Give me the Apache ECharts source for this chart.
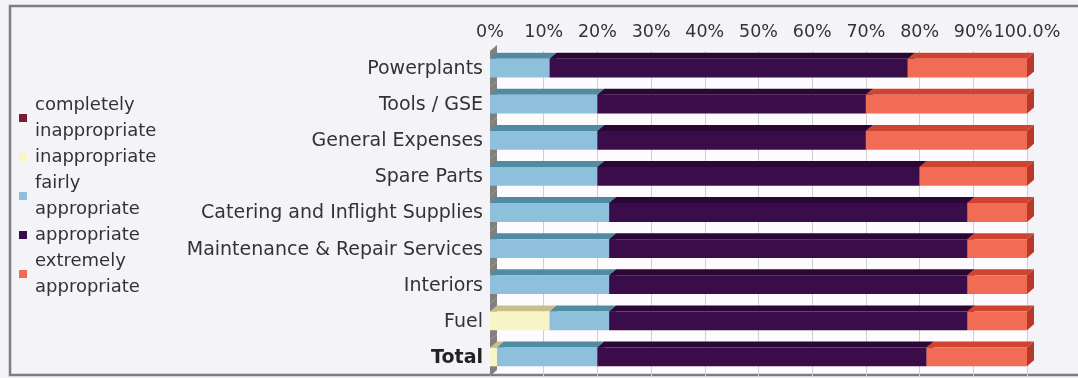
<!DOCTYPE html>
<html>
<head>
<meta charset="utf-8">
<script src="https://cdn.jsdelivr.net/npm/echarts@6/dist/echarts.min.js"></script>
<style>
  html, body { margin: 0; padding: 0; background: #f4f3f7; }
  #chart { width: 1078px; height: 378px; }
</style>
</head>
<body>
<div id="chart"></div>
<script>
// Survey: how appropriate is each purchasing category (share of answers, %)
const categories = [
  'Powerplants', 'Tools / GSE', 'General Expenses', 'Spare Parts',
  'Catering and Inflight Supplies', 'Maintenance & Repair Services',
  'Interiors', 'Fuel', 'Total'
];
const completelyInappropriate = [0, 0, 0, 0, 0, 0, 0, 0, 0];
const inappropriate           = [0, 0, 0, 0, 0, 0, 0, 11.1, 1.3];
const fairlyAppropriate       = [11.1, 20, 20, 20, 22.2, 22.2, 22.2, 11.1, 18.7];
const appropriate             = [66.7, 50, 50, 60, 66.7, 66.7, 66.7, 66.7, 61.3];
const extremelyAppropriate    = [22.2, 30, 30, 20, 11.1, 11.1, 11.1, 11.1, 18.7];
const tickLabels = ['0%', '10%', '20%', '30%', '40%', '50%', '60%', '70%', '80%', '90%', '100.0%'];

const seriesDefs = [
  { name: 'completely\ninappropriate', values: completelyInappropriate, face: '#7d1b34', top: '#5e1226', side: '#4a0e1d' },
  { name: 'inappropriate',             values: inappropriate,           face: '#f7f4c6', top: '#c9bd8c', side: '#b0a574' },
  { name: 'fairly\nappropriate',       values: fairlyAppropriate,       face: '#8ec0dc', top: '#4f8ba3', side: '#3f7389' },
  { name: 'appropriate',               values: appropriate,             face: '#3b0c4a', top: '#2a0735', side: '#22052e' },
  { name: 'extremely\nappropriate',    values: extremelyAppropriate,    face: '#f26b55', top: '#cf4431', side: '#b8392a' }
];

const DX = 7, DY = 6;      // depth of the 3D bars

// cumulative start / end of each stacked segment
const running = categories.map(() => 0);
const stacked = seriesDefs.map(def => def.values.map((v, i) => {
  const s = running[i];
  running[i] += v;
  return [i, s, s + v];
}));

function barRenderer(def) {
  return function (params, api) {
    const cat = api.value(0), s = api.value(1), e = api.value(2);
    if (e - s <= 0) return null;
    const p0 = api.coord([s, cat]);
    const p1 = api.coord([e, cat]);
    const band = api.size([0, 1])[1];
    const h = band * 0.52;
    const cy = p0[1] - 1;
    const top = cy - h / 2, bottom = cy + h / 2;
    const x0 = p0[0], x1 = p1[0];
    return {
      type: 'group',
      children: [
        { type: 'polygon', shape: { points: [[x1, top], [x1 + DX, top - DY], [x1 + DX, bottom - DY], [x1, bottom]] },
          style: { fill: def.side } },
        { type: 'polygon', shape: { points: [[x0, top], [x1, top], [x1 + DX, top - DY], [x0 + DX, top - DY]] },
          style: { fill: def.top } },
        { type: 'rect', shape: { x: x0, y: top, width: x1 - x0, height: h },
          style: { fill: def.face } }
      ]
    };
  };
}

// grey side wall at the left edge of the plot
const wallSeries = {
  type: 'custom',
  name: 'wall',
  silent: true,
  data: categories.map((c, i) => [i, 0]),
  encode: { x: 1, y: 0 },
  renderItem: function (params, api) {
    const p = api.coord([0, api.value(0)]);
    const band = api.size([0, 1])[1];
    const t = p[1] - band / 2, b = p[1] + band / 2;
    return {
      type: 'polygon',
      shape: { points: [[p[0], t], [p[0] + DX, t - DY], [p[0] + DX, b - DY], [p[0], b]] },
      style: { fill: '#808080' }
    };
  },
  z: 1
};

const chart = echarts.init(document.getElementById('chart'));
chart.setOption({
  backgroundColor: '#f4f3f7',
  animation: false,
  textStyle: { fontFamily: 'DejaVu Sans' },
  graphic: [{
    type: 'rect',
    shape: { x: 10, y: 6, width: 1090, height: 369 },
    style: { fill: null, stroke: '#7e7e7e', lineWidth: 2.5 },
    silent: true
  }],
  legend: {
    orient: 'vertical',
    left: 14,
    top: 87,
    itemGap: 0,
    itemWidth: 8,
    itemHeight: 8,
    icon: 'rect',
    data: seriesDefs.map(d => d.name),
    textStyle: { fontFamily: 'DejaVu Sans', fontSize: 18, lineHeight: 26, color: '#333', padding: [0, 0, 0, 3] }
  },
  grid: {
    left: 490, right: 51, top: 51, bottom: 2,
    show: true, backgroundColor: '#fdfbfd', borderWidth: 0
  },
  xAxis: {
    type: 'value',
    position: 'top',
    min: 0, max: 100, interval: 10,
    axisLine: { show: false },
    axisTick: { show: false },
    axisLabel: {
      margin: 10,
      fontSize: 17.5,
      color: '#333',
      fontFamily: 'DejaVu Sans',
      showMinLabel: true,
      showMaxLabel: true,
      hideOverlap: false,
      textMargin: 0,
      formatter: v => tickLabels[Math.round(v / 10)]
    },
    splitLine: { show: true, lineStyle: { color: '#cfcfcf', width: 1 } }
  },
  yAxis: {
    type: 'category',
    data: categories,
    inverse: true,
    axisLine: { show: false },
    axisTick: { show: false },
    axisLabel: {
      margin: 7,
      fontSize: 19,
      color: '#333',
      fontFamily: 'DejaVu Sans',
      formatter: v => v === 'Total' ? '{b|Total}' : v,
      rich: { b: { fontWeight: 'bold', fontSize: 19, fontFamily: 'DejaVu Sans', color: '#222' } }
    }
  },
  series: [wallSeries].concat(seriesDefs.map((def, k) => ({
    type: 'custom',
    name: def.name,
    itemStyle: { color: def.face },
    data: stacked[k],
    encode: { x: [1, 2], y: 0 },
    renderItem: barRenderer(def),
    z: 2
  })))
});
</script>
</body>
</html>
